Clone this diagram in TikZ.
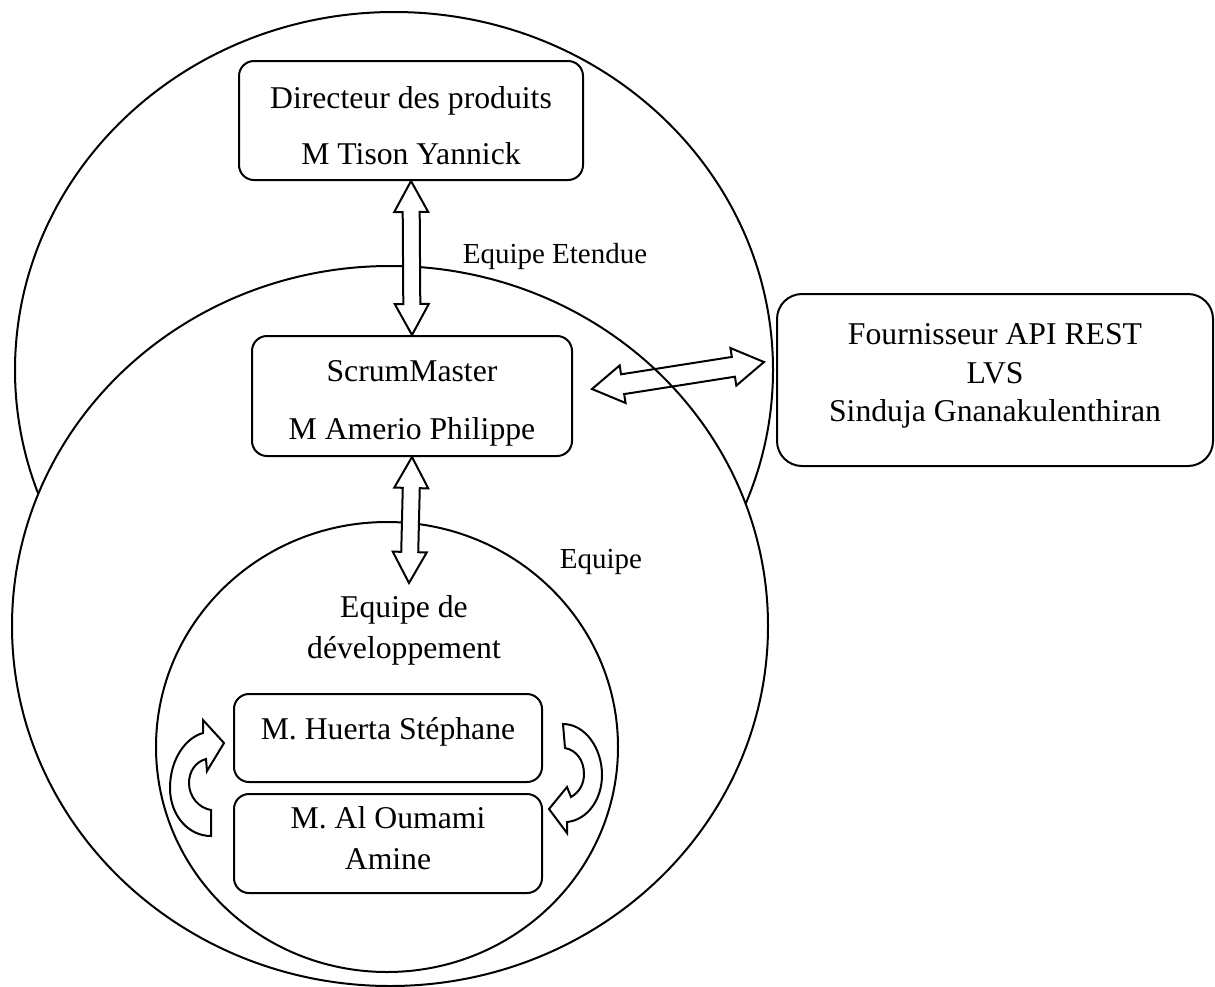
\documentclass[tikz,border=0pt]{standalone}
\usepackage{fontspec}
\setmainfont{Liberation Serif}
\usepackage{tikz}
\usetikzlibrary{calc}

\newcommand{\grande}{\fontsize{31.7}{38}\selectfont}
\newcommand{\petite}{\fontsize{29}{35}\selectfont}

\newcommand{\flechedouble}[2]{%
	\draw[fleche, fill=white] let \p1=(#1), \p2=(#2), \n1={atan2(\y2-\y1,\x2-\x1)} in
		(\p1) -- ($(\p1)+(\n1:31pt)+(\n1+90:17pt)$) -- ($(\p1)+(\n1:31pt)+(\n1+90:8.5pt)$)
		-- ($(\p2)+(\n1+180:31pt)+(\n1+90:8.5pt)$) -- ($(\p2)+(\n1+180:31pt)+(\n1+90:17pt)$)
		-- (\p2)
		-- ($(\p2)+(\n1+180:31pt)+(\n1-90:17pt)$) -- ($(\p2)+(\n1+180:31pt)+(\n1-90:8.5pt)$)
		-- ($(\p1)+(\n1:31pt)+(\n1-90:8.5pt)$) -- ($(\p1)+(\n1:31pt)+(\n1-90:17pt)$)
		-- cycle;
}

\begin{document}
\begin{tikzpicture}[
	x=1pt, y=-1pt,
	cercle/.style={line width=2pt, fill=white},
	boite/.style={draw, line width=2pt, fill=white, rounded corners=15pt, align=center, inner sep=0pt, font=\grande},
	fleche/.style={line width=2pt, line join=miter},
	texte/.style={font=\petite, anchor=base}
	]
	\useasboundingbox (0,0) rectangle (1215,986);

	\draw[cercle] (394,370) ellipse [x radius=379, y radius=358];
	\draw[cercle] (390,626) ellipse [x radius=378, y radius=360];
	\draw[cercle] (387,747) ellipse [x radius=231, y radius=225];

	\node[boite, minimum width=344pt, text height=103pt, text depth=16pt] (dir) at (411,60) [anchor=north]
		{Directeur des produits\\[18pt]M Tison Yannick};
	\node[boite, minimum width=320pt, text height=103pt, text depth=17pt] (scrum) at (412,335) [anchor=north]
		{ScrumMaster\\[20pt]M Amerio Philippe};
	\node[boite, rounded corners=25pt, minimum width=436pt, text height=127pt, text depth=45pt] (four) at (995,293) [anchor=north]
		{Fournisseur API REST\\[1pt]LVS\\[0pt]Sinduja Gnanakulenthiran};
	\node[boite, minimum width=308pt, text height=45pt, text depth=43pt] (huerta) at (388,693) [anchor=north]
		{M. Huerta Stéphane};
	\node[boite, minimum width=308pt, text height=75pt, text depth=24pt] (oumami) at (388,793) [anchor=north]
		{M. Al Oumami\\[3pt]Amine};

	\node[texte] (etendue) at (555,263) {Equipe Etendue};
	\node[texte] (equipe) at (601,568) {Equipe};
	\node[texte, font=\grande, align=center] (dev) at (404,658) {Equipe de\\[3pt]développement};

	\coordinate (devtop) at (409,583);
	\coordinate (gauche) at (592,389);
	\coordinate (droite) at (764,362);

	\flechedouble{dir.south}{scrum.north}
	\flechedouble{scrum.south}{devtop}
	\draw[fleche] let \p1=(gauche), \p2=(droite), \n1={atan2(\y2-\y1,\x2-\x1)} in
		(\p1) -- ($(\p1)+(\n1:31pt)+(\n1+90:19pt)$) -- ($(\p1)+(\n1:31pt)+(\n1+90:10pt)$)
		-- ($(\p2)+(\n1+180:31pt)+(\n1+90:10pt)$) -- ($(\p2)+(\n1+180:31pt)+(\n1+90:19pt)$)
		-- (\p2)
		-- ($(\p2)+(\n1+180:31pt)+(\n1-90:19pt)$) -- ($(\p2)+(\n1+180:31pt)+(\n1-90:10pt)$)
		-- ($(\p1)+(\n1:31pt)+(\n1-90:10pt)$) -- ($(\p1)+(\n1:31pt)+(\n1-90:19pt)$)
		-- cycle;

	\draw[fleche, fill=white] (211,836) .. controls (188,836) and (170,815) .. (170,788)
		.. controls (170,760) and (185,738) .. (203,733) -- (203,720) -- (224,743) -- (207,771) -- (206,759)
		.. controls (195,762) and (189,772) .. (189,783) .. controls (189,797) and (199,808) .. (211,810) -- cycle;
	\draw[fleche, fill=white] (563,724) .. controls (585,724) and (602,748) .. (602,775)
		.. controls (602,800) and (587,820) .. (567,822) -- (567,833) -- (549,809) -- (567,787) -- (571,797)
		.. controls (580,792) and (584,783) .. (584,774) .. controls (584,760) and (576,750) .. (565,748) -- cycle;
\end{tikzpicture}
\end{document}
